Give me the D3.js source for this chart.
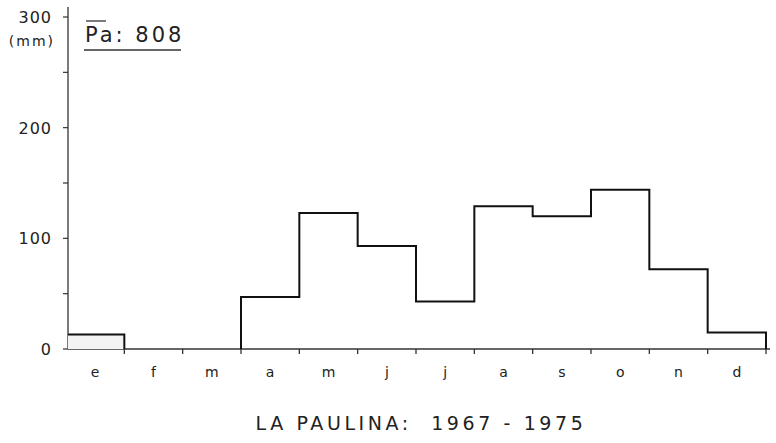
<!DOCTYPE html>
<html><head><meta charset="utf-8">
<script src="https://cdn.jsdelivr.net/npm/d3@7"></script>
<style>body{margin:0;background:#fff}svg{display:block}text{font-family:"DejaVu Sans",sans-serif;fill:#222}</style>
</head><body><svg id="c" width="776" height="443"></svg>
<script>
const months = ["e","f","m","a","m","j","j","a","s","o","n","d"];
const values = [13, 0, 0, 47, 123, 93, 43, 129, 120, 144, 72, 15];
const yTickLabels = [0, 100, 200, 300];
const yMinorTicks = [50, 150, 250];
const meanLabel = "808";
const title = "LA PAULINA:  1967 - 1975";

const svg = d3.select("#c");
const AX = 68;
const x = d3.scaleLinear().domain([0, 12]).range([66, 766]);
const xl = i => Math.max(AX, x(i));
const y = d3.scaleLinear().domain([0, 300]).range([349, 17]);

// y axis line
svg.append("line").attr("x1",AX).attr("x2",AX).attr("y1",7).attr("y2",y(0))
  .attr("stroke","#333").attr("stroke-width",1.3);
svg.selectAll(".yt").data(yTickLabels.concat(yMinorTicks)).enter().append("line")
  .attr("x1",AX-5).attr("x2",AX).attr("y1",d=>y(d)).attr("y2",d=>y(d))
  .attr("stroke","#333").attr("stroke-width",1.2);
svg.selectAll(".yl").data(yTickLabels).enter().append("text")
  .attr("x",52).attr("y",d=>y(d)+6).attr("text-anchor","end")
  .attr("font-size",16).attr("letter-spacing",1).text(d=>d);
svg.append("text").attr("x",55).attr("y",y(300)+29).attr("text-anchor","end")
  .attr("font-size",14).attr("letter-spacing",2).text("(mm)");

// x axis
svg.append("line").attr("x1",AX).attr("x2",770).attr("y1",y(0)).attr("y2",y(0))
  .attr("stroke","#333").attr("stroke-width",1.3);
svg.selectAll(".xt").data(d3.range(1,13)).enter().append("line")
  .attr("x1",d=>x(d)).attr("x2",d=>x(d)).attr("y1",y(0)).attr("y2",y(0)+5)
  .attr("stroke","#333").attr("stroke-width",1.3);
svg.selectAll(".xl").data(months).enter().append("text")
  .attr("x",(d,i)=>x(i+0.5)).attr("y",377).attr("text-anchor","middle")
  .attr("font-size",14).text(d=>d);

// first bar light fill
svg.append("rect").attr("x",xl(0)).attr("y",y(values[0])).attr("width",x(1)-xl(0))
  .attr("height",y(0)-y(values[0])).attr("fill","#f3f3f3");

// step outline segments (skip zero months along axis)
const segs = [];
let cur = null;
values.forEach((v,i)=>{
  if (v > 0) {
    if (!cur) { cur = []; if (i > 0) cur.push([xl(i), y(0)]); segs.push(cur); }
    cur.push([xl(i), y(v)]); cur.push([x(i+1), y(v)]);
  } else if (cur) { cur.push([x(i), y(0)]); cur = null; }
});
if (cur) cur.push([x(12), y(0)]);
svg.selectAll(".seg").data(segs).enter().append("path")
  .attr("d", d3.line()).attr("fill","none")
  .attr("stroke","#111").attr("stroke-width",2).attr("stroke-linejoin","miter");

// Pa label
const lab = svg.append("text").attr("x",85).attr("y",42).attr("font-size",21).attr("letter-spacing",3);
lab.append("tspan").text("Pa");
lab.append("tspan").text(": " + meanLabel);
svg.append("line").attr("x1",86).attr("x2",106).attr("y1",21).attr("y2",21).attr("stroke","#333").attr("stroke-width",1.3);
svg.append("line").attr("x1",84).attr("x2",181).attr("y1",50).attr("y2",50).attr("stroke","#333").attr("stroke-width",1.3);

// title
svg.append("text").attr("x",421).attr("y",430).attr("text-anchor","middle")
  .attr("font-size",19).attr("letter-spacing",3.6).style("white-space","pre").text(title);
</script></body></html>
